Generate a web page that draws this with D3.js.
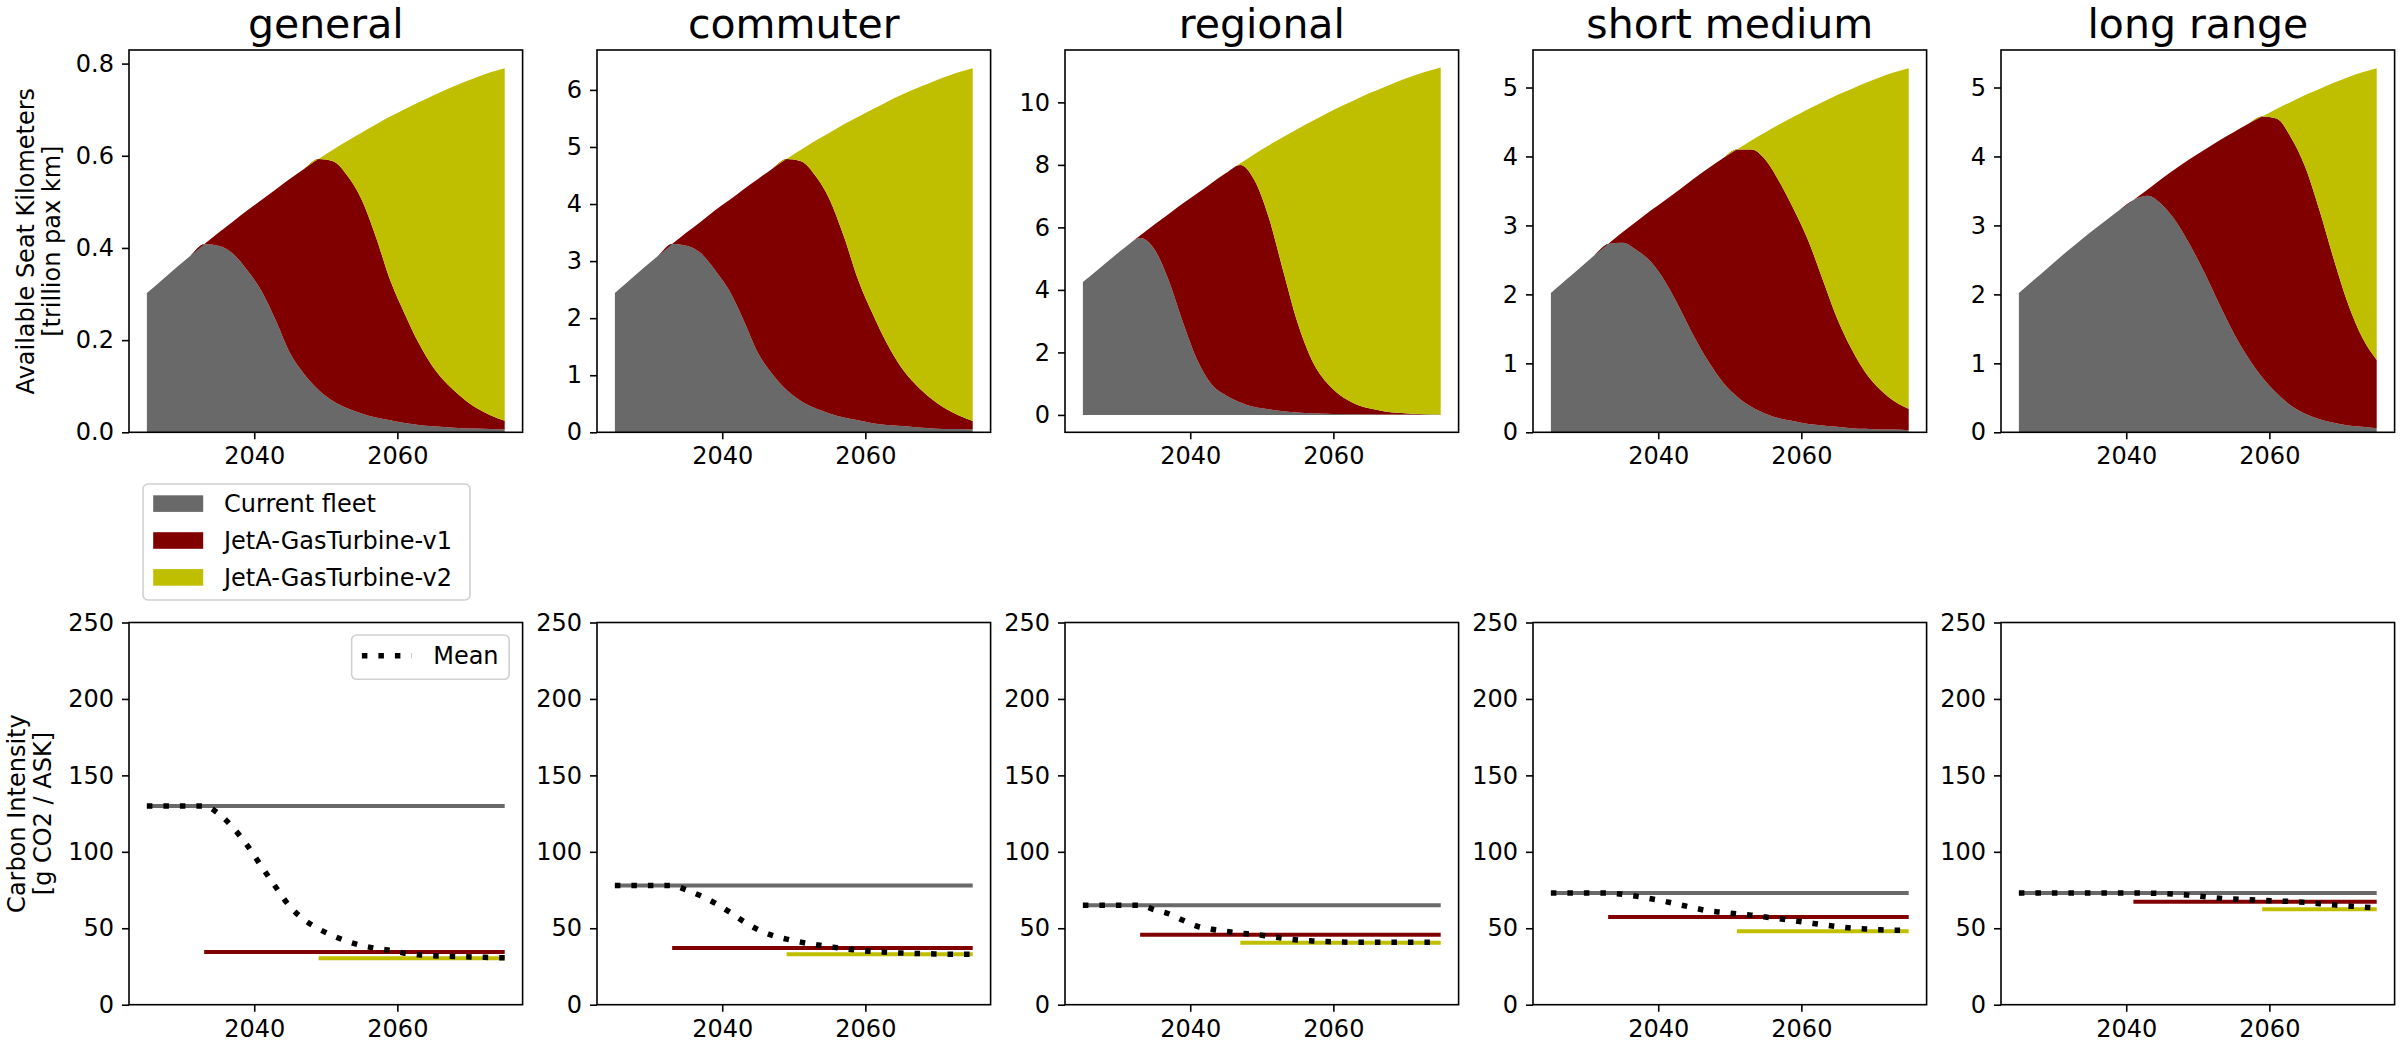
<!DOCTYPE html>
<meta charset="utf-8">

<html>
<head>
<!-- Load d3.js -->
<script src="https://d3js.org/d3.v7.min.js"></script>
<style>
  body { margin: 0; background: #fff; }
  text { font-family: "DejaVu Sans", sans-serif; fill: #000; }
</style>
</head>

<body>
<!-- Create an element where the figure will take place -->
<svg id="my_dataviz" width="2400" height="1050"></svg>
</body>
</html>
<script>

// Years of the fleet simulation (every second year)
var years = [2025, 2027, 2029, 2031, 2033, 2035, 2037, 2039, 2041, 2043, 2045, 2047, 2049,
             2051, 2053, 2055, 2057, 2059, 2061, 2063, 2065, 2067, 2069, 2071, 2073, 2075];

var categories = ["general", "commuter", "regional", "short medium", "long range"];
var fleets = ["Current fleet", "JetA-GasTurbine-v1", "JetA-GasTurbine-v2"];
var colors = ["#696969", "#800000", "#bfbf00"];

// Available seat kilometers [trillion pax km], one array per category and fleet
var askGeneralCurrent = [.302,.329,.356,.382,.408,.405,.388,.352,.307,.243,.172,.126,.092,.068,.052,.041,.032,.026,.020,.016,.013,.011,.009,.008,.007,.006];
var askGeneralV1 = [0,0,0,0,0,.028,.069,.129,.197,.284,.378,.446,.501,.520,.505,.464,.392,.304,.238,.177,.128,.093,.067,.045,.030,.019];
var askGeneralV2 = [0,0,0,0,0,0,0,0,0,0,0,0,0,.025,.075,.145,.244,.355,.443,.523,.590,.641,.682,.717,.744,.765];

var askCommuterCurrent = [2.44,2.66,2.88,3.09,3.30,3.27,3.14,2.84,2.48,1.96,1.39,1.02,0.74,0.55,0.42,0.33,0.26,0.21,0.16,0.13,0.11,0.09,0.07,0.06,0.06,0.05];
var askCommuterV1 = [0,0,0,0,0,0.23,0.55,1.05,1.59,2.30,3.05,3.60,4.05,4.20,4.08,3.75,3.17,2.46,1.92,1.43,1.03,0.75,0.54,0.37,0.24,0.15];
var askCommuterV2 = [0,0,0,0,0,0,0,0,0,0,0,0,0,0.20,0.61,1.17,1.97,2.86,3.58,4.23,4.77,5.18,5.51,5.79,6.01,6.18];

var askRegionalCurrent = [4.25,4.63,5.01,5.38,5.66,5.30,4.30,2.95,1.75,0.97,0.62,0.40,0.25,0.18,0.12,0.08,0.05,0.04,0.03,0.02,0.02,0.01,0.01,0.01,0.01,0.01];
var askRegionalV1 = [0,0,0,0,0.08,0.79,2.13,3.82,5.34,6.45,7.12,7.60,7.25,6.12,4.48,2.87,1.70,1.01,0.59,0.34,0.19,0.11,0.06,0.03,0.01,0];
var askRegionalV2 = [0,0,0,0,0,0,0,0,0,0,0,0.05,0.85,2.33,4.29,6.20,7.65,8.59,9.25,9.72,10.08,10.36,10.60,10.80,10.97,11.11];

var askShortMediumCurrent = [2.02,2.20,2.38,2.56,2.73,2.75,2.64,2.47,2.18,1.80,1.39,1.03,0.73,0.52,0.37,0.27,0.20,0.16,0.12,0.10,0.08,0.06,0.05,0.04,0.04,0.03];
var askShortMediumV1 = [0,0,0,0,0,0.15,0.42,0.75,1.19,1.72,2.29,2.80,3.24,3.58,3.73,3.68,3.42,3.06,2.65,2.11,1.57,1.15,0.81,0.58,0.41,0.31];
var askShortMediumV2 = [0,0,0,0,0,0,0,0,0,0,0,0,0,0,0.13,0.40,0.85,1.36,1.92,2.58,3.24,3.77,4.21,4.53,4.77,4.94];

var askLongRangeCurrent = [2.02,2.20,2.38,2.56,2.73,2.90,3.06,3.22,3.37,3.43,3.30,3.05,2.70,2.30,1.86,1.44,1.09,0.80,0.57,0.39,0.27,0.19,0.14,0.10,0.08,0.06];
var askLongRangeV1 = [0,0,0,0,0,0,0,0,0,0.09,0.38,0.78,1.27,1.80,2.37,2.91,3.38,3.78,3.98,3.89,3.58,3.03,2.37,1.76,1.29,0.99];
var askLongRangeV2 = [0,0,0,0,0,0,0,0,0,0,0,0,0,0,0,0,0,0,0.14,0.51,1.04,1.76,2.56,3.29,3.85,4.23];

// Carbon intensity [g CO2 / ASK]: mean of the fleet per category
var ciGeneralMean = [130,130,130,130,130,125,116,104.4,90.5,77,64.1,55.5,49.6,45.1,41.4,38.7,36.9,35.6,33.7,32.6,32.1,31.7,31.4,31.1,30.9,30.7];
var ciCommuterMean = [78,78,78,78,78,75,71.2,66.5,60.7,54.4,49.1,45.3,42.9,40.9,39.3,37.9,36.7,35.6,34.8,34.3,33.8,33.5,33.3,33.1,33.0,33.0];
var ciRegionalMean = [65,65,65,65,65,62.1,59.5,55.2,51.3,49.3,47.9,46.8,45.9,44.8,43.4,42.3,41.7,41.3,41.0,40.8,40.8,40.8,40.8,40.8,40.8,40.8];
var ciShortMediumMean = [73,73,73,73,73,72.2,70.9,69.3,67.5,65.4,63.3,61.4,60.4,59.4,58.6,57.3,56.2,54.9,53.6,52.3,51.1,50.1,49.5,49.0,48.7,48.6];
var ciLongRangeMean = [73,73,73,73,73,73,73,73,73,73.0,72.7,72.2,71.6,70.6,69.6,69.1,68.7,68.3,67.9,67.5,66.9,66.1,65.3,64.6,63.9,63.3];

// Carbon intensity of each aircraft type, and its entry into service year
var ciCurrent = [130, 78, 65, 73, 73];
var ciV1 = [34.4, 37.1, 45.8, 57.4, 67.4];
var ciV2 = [30.4, 33.0, 40.6, 48.0, 62.4];
var entryV1 = [2033, 2033, 2033, 2033, 2041];
var entryV2 = [2049, 2049, 2047, 2051, 2059];

// regional axis is not pinned at zero
var stickyZero = [true, true, false, true, true];

var askTable = [
  [askGeneralCurrent, askGeneralV1, askGeneralV2],
  [askCommuterCurrent, askCommuterV1, askCommuterV2],
  [askRegionalCurrent, askRegionalV1, askRegionalV2],
  [askShortMediumCurrent, askShortMediumV1, askShortMediumV2],
  [askLongRangeCurrent, askLongRangeV1, askLongRangeV2]
];
var ciMeanTable = [ciGeneralMean, ciCommuterMean, ciRegionalMean, ciShortMediumMean, ciLongRangeMean];

// The svg
var svg = d3.select("svg");

var axW = 393.6,
  topY = 50, topH = 382.3,
  botY = 622.5, botH = 382.2;

var x = d3.scaleLinear()
  .domain([2022.5, 2077.5])
  .range([0, axW]);

function styleAxis(g) {
  g.select(".domain").remove();
  g.selectAll(".tick line").attr("stroke", "#000").attr("stroke-width", 1.6);
  g.selectAll(".tick text").attr("font-size", 24).attr("fill", "#000")
    .attr("font-family", "DejaVu Sans");
}

categories.forEach(function (cat, i) {
  var left = 129 + i * 468;

  // ---------- top row: stacked ASK ----------
  var rows = years.map(function (yr, j) {
    return { year: yr, current: askTable[i][0][j], v1: askTable[i][1][j], v2: askTable[i][2][j] };
  });
  var layers = d3.stack().keys(["current", "v1", "v2"])(rows);
  var maxV = d3.max(layers[2], function (d) { return d[1]; });
  var lo = stickyZero[i] ? 0 : -0.05 * maxV;
  var y = d3.scaleLinear()
    .domain([lo, maxV * 1.05])
    .range([topH, 0]);

  var g = svg.append("g").attr("transform", "translate(" + left + "," + topY + ")");

  var area = d3.area()
    .x(function (d) { return x(d.data.year); })
    .y0(function (d) { return y(d[0]); })
    .y1(function (d) { return y(d[1]); })
    .curve(d3.curveMonotoneX);

  g.selectAll("path.layer")
    .data(layers)
    .enter()
    .append("path")
      .attr("class", "layer")
      .attr("d", area)
      .attr("fill", function (d, k) { return colors[k]; });

  g.append("g")
    .attr("transform", "translate(0," + topH + ")")
    .call(d3.axisBottom(x).tickValues([2040, 2060]).tickFormat(d3.format("d"))
      .tickSize(7).tickPadding(8).tickSizeOuter(0))
    .call(styleAxis);

  g.append("g")
    .call(d3.axisLeft(y).ticks(5).tickFormat(y.tickFormat(5))
      .tickSize(7).tickPadding(8).tickSizeOuter(0))
    .call(styleAxis);

  g.append("rect")
    .attr("width", axW).attr("height", topH)
    .attr("fill", "none").attr("stroke", "#000").attr("stroke-width", 1.6);

  g.append("text")
    .attr("x", axW / 2).attr("y", -12)
    .attr("text-anchor", "middle")
    .attr("font-size", 41)
    .text(cat);

  // ---------- bottom row: carbon intensity ----------
  var yc = d3.scaleLinear().domain([0, 250]).range([botH, 0]);
  var gb = svg.append("g").attr("transform", "translate(" + left + "," + botY + ")");

  var hline = d3.line()
    .x(function (d) { return x(d.year); })
    .y(function (d) { return yc(d.v); });

  var lastYear = years[years.length - 1];
  var segs = [
    [{ year: years[0], v: ciCurrent[i] }, { year: lastYear, v: ciCurrent[i] }],
    [{ year: entryV1[i], v: ciV1[i] }, { year: lastYear, v: ciV1[i] }],
    [{ year: entryV2[i], v: ciV2[i] }, { year: lastYear, v: ciV2[i] }]
  ];
  gb.selectAll("path.ci")
    .data(segs)
    .enter()
    .append("path")
      .attr("class", "ci")
      .attr("d", hline)
      .attr("fill", "none")
      .attr("stroke", function (d, k) { return colors[k]; })
      .attr("stroke-width", 4);

  var meanData = years.map(function (yr, j) { return { year: yr, v: ciMeanTable[i][j] }; });
  gb.append("path")
    .datum(meanData)
    .attr("d", d3.line()
      .x(function (d) { return x(d.year); })
      .y(function (d) { return yc(d.v); })
      .curve(d3.curveMonotoneX))
    .attr("fill", "none")
    .attr("stroke", "#000")
    .attr("stroke-width", 5.5)
    .attr("stroke-dasharray", "5.5,11");

  gb.append("g")
    .attr("transform", "translate(0," + botH + ")")
    .call(d3.axisBottom(x).tickValues([2040, 2060]).tickFormat(d3.format("d"))
      .tickSize(7).tickPadding(8).tickSizeOuter(0))
    .call(styleAxis);

  gb.append("g")
    .call(d3.axisLeft(yc).ticks(5).tickSize(7).tickPadding(8).tickSizeOuter(0))
    .call(styleAxis);

  gb.append("rect")
    .attr("width", axW).attr("height", botH)
    .attr("fill", "none").attr("stroke", "#000").attr("stroke-width", 1.6);

  // legend "Mean" in the first panel
  if (i === 0) {
    var lg = gb.append("g").attr("transform", "translate(" + (axW - 171) + ",12.5)");
    lg.append("rect")
      .attr("width", 157.6).attr("height", 44.3).attr("rx", 5)
      .attr("fill", "#fff").attr("fill-opacity", 0.8)
      .attr("stroke", "#d0d0d0").attr("stroke-width", 1.6);
    lg.append("line")
      .attr("x1", 10.3).attr("x2", 60).attr("y1", 20.7).attr("y2", 20.7)
      .attr("stroke", "#000").attr("stroke-width", 5.5).attr("stroke-dasharray", "5.5,11");
    lg.append("text")
      .attr("x", 81.6).attr("y", 20.7).attr("dy", "0.35em")
      .attr("font-size", 24)
      .text("Mean");
  }
});

// y labels
function yLabel(lines, cx, cy) {
  var t = svg.append("text")
    .attr("transform", "translate(" + cx + "," + cy + ") rotate(-90)")
    .attr("text-anchor", "middle")
    .attr("font-size", 24);
  t.selectAll("tspan")
    .data(lines)
    .enter()
    .append("tspan")
      .attr("x", 0)
      .attr("y", function (d, k) { return k * 26; })
      .text(function (d) { return d; });
}
yLabel(["Available Seat Kilometers", "[trillion pax km]"], 34, topY + topH / 2);
yLabel(["Carbon Intensity", "[g CO2 / ASK]"], 25, botY + botH / 2);

// figure legend for the fleets
var leg = svg.append("g").attr("transform", "translate(143,484)");
leg.append("rect")
  .attr("width", 327).attr("height", 116).attr("rx", 5)
  .attr("fill", "#fff")
  .attr("stroke", "#d0d0d0").attr("stroke-width", 1.6);
var entries = leg.selectAll("g.entry")
  .data(fleets)
  .enter()
  .append("g")
    .attr("class", "entry")
    .attr("transform", function (d, k) { return "translate(0," + (19.6 + k * 36.9) + ")"; });
entries.append("rect")
  .attr("x", 10.2).attr("y", -8.3).attr("width", 50).attr("height", 16.6)
  .attr("fill", function (d, k) { return colors[k]; });
entries.append("text")
  .attr("x", 81).attr("dy", "0.35em")
  .attr("font-size", 24)
  .text(function (d) { return d; });

</script>
